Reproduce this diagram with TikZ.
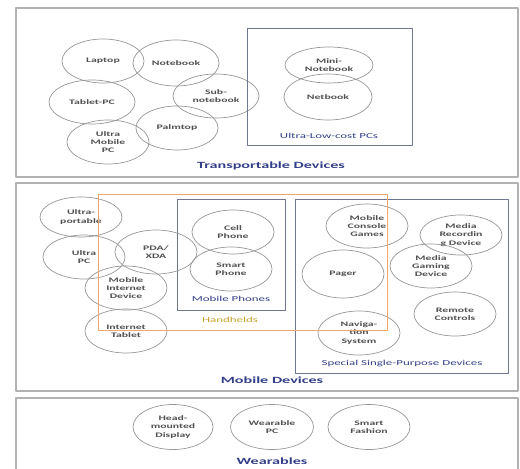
\documentclass[tikz,border=0pt]{standalone}
\usepackage{fontspec}
\setmainfont{Carlito}[FakeStretch=1.7]
\usetikzlibrary{shapes.geometric}
\definecolor{panelgray}{RGB}{178,178,178}
\definecolor{ringgray}{RGB}{150,150,150}
\definecolor{groupgray}{RGB}{110,118,145}
\definecolor{devtext}{RGB}{80,80,80}
\definecolor{titleblue}{RGB}{50,62,135}
\definecolor{handorange}{RGB}{242,165,105}
\definecolor{handtext}{RGB}{200,160,40}
\begin{document}
\begin{tikzpicture}[x=1pt,y=-1pt,line join=round,
    dev/.style={ellipse,draw=ringgray,line width=.7pt,minimum width=82pt,minimum height=44pt,
      inner sep=0pt,align=center,text=devtext,font=\fontsize{6.9}{8.3}\selectfont\bfseries},
    panel/.style={draw=panelgray,line width=1.3pt},
    group/.style={draw=groupgray,line width=.8pt},
    title/.style={text=titleblue,font=\fontsize{9.5}{10}\selectfont\bfseries},
    grouplabel/.style={text=titleblue,font=\fontsize{7.6}{8}\selectfont}]
  \useasboundingbox (0,0) rectangle (520,469);
  \clip (0,0) rectangle (520,469);
  \draw[panel]
    (16,8) rectangle (518,177)
    (16,183) rectangle (518,391)
    (16,398) rectangle (518,485);

  % transportable devices
  \node[dev] (laptop) at (103,61) {Laptop};
  \node[dev,minimum width=86pt,minimum height=46pt] (notebook) at (176,63) {Notebook};
  \node[dev,minimum width=86pt] (subnote) at (216,96) {Sub-\\notebook};
  \node[dev,minimum width=86pt] (tablet) at (92,102) {Tablet-PC};
  \node[dev] (palmtop) at (177,128) {Palmtop};
  \node[dev] (umpc) at (108,142) {Ultra\\Mobile\\PC};
  \draw[group] (247,28) rectangle (412,145);
  \node[dev,minimum width=88pt,minimum height=36pt] (mininote) at (329,65) {Mini-\\Notebook};
  \node[dev,minimum width=88pt,minimum height=46pt] (netbook) at (328,97) {Netbook};
  \node[grouplabel] (ulcpc) at (329,136) {Ultra-Low-cost PCs};
  \node[title] (transport) at (271,166) {Transportable Devices};

  % mobile devices
  \draw[group] (177,199) rectangle (285,310);
  \draw[group] (295,199) rectangle (508,373);
  \node[dev,minimum height=40pt] (ultraport) at (81,217) {Ultra-\\portable};
  \node[dev] (ultrapc) at (84,257) {Ultra\\PC};
  \node[dev] (pda) at (156,252) {PDA/\\XDA};
  \node[dev] (mid) at (126,288) {Mobile\\Internet\\Device};
  \node[dev] (itablet) at (126,331) {Internet\\Tablet};
  \node[dev] (cell) at (233,232) {Cell\\Phone};
  \node[dev] (smart) at (231,269) {Smart\\Phone};
  \node[grouplabel] (phones) at (231,299) {Mobile Phones};
  \node[dev] (console) at (367,226) {Mobile\\Console\\Games};
  \node[dev,minimum height=40pt] (mediarec) at (461,235) {Media\\Recordin\\g Device};
  \node[dev] (mediagame) at (431,266) {Media\\Gaming\\Device};
  \node[dev,minimum height=48pt] (pager) at (343,274) {Pager};
  \node[dev] (remote) at (455,314) {Remote\\Controls};
  \node[dev] (navi) at (359,333) {Naviga-\\tion\\System};
  \node[grouplabel] (special) at (402,364) {Special Single-Purpose Devices};
  \draw[draw=handorange,line width=.9pt] (98,194) rectangle (387,330);
  \node[grouplabel,text=handtext] (handhelds) at (230,320) {Handhelds};
  \node[title] (mobile) at (272,380) {Mobile Devices};

  % wearables
  \node[dev,minimum width=80pt,minimum height=45pt] (hmd) at (173,427) {Head-\\mounted\\Display};
  \node[dev,minimum width=83pt,minimum height=45pt] (wpc) at (272,427) {Wearable\\PC};
  \node[dev,minimum width=82pt,minimum height=45pt] (fashion) at (369,427) {Smart\\Fashion};
  \node[title] (wearables) at (272,461) {Wearables};
\end{tikzpicture}
\end{document}
